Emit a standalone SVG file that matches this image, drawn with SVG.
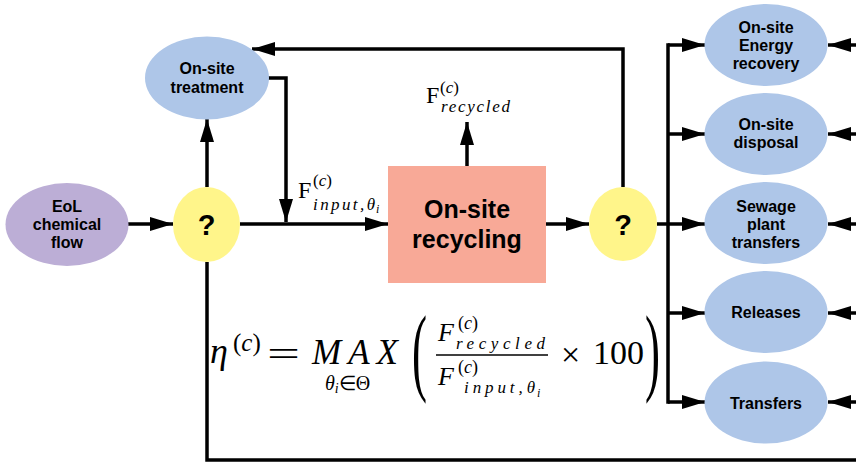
<svg xmlns="http://www.w3.org/2000/svg" width="856" height="462" viewBox="0 0 856 462">
<style>
.lbl{font-family:"Liberation Sans",Arial,sans-serif;font-weight:bold;font-size:16px;fill:#000;text-anchor:middle}
.big{font-size:25px}
.q{font-size:29px}
.blue{fill:#aec6e8}
.m{font-family:"Liberation Serif","Times New Roman",serif;fill:#000}
.it{font-style:italic}
.conn{fill:none;stroke:#000;stroke-width:3.5}
</style>
<defs>
<marker id="ah" markerUnits="userSpaceOnUse" markerWidth="24" markerHeight="16" viewBox="0 0 24 16" refX="23" refY="8" orient="auto">
<path d="M0,1 L23,8 L0,15 Z" fill="#000"/>
</marker>
</defs>
<rect width="856" height="462" fill="#fff"/>

<g id="connectors">
<line class="conn" x1="128" y1="224" x2="173" y2="224" marker-end="url(#ah)"/>
<line class="conn" x1="207" y1="187" x2="207" y2="119" marker-end="url(#ah)"/>
<path class="conn" d="M268,78 H286 V222" marker-end="url(#ah)"/>
<line class="conn" x1="240" y1="224" x2="388" y2="224" marker-end="url(#ah)"/>
<line class="conn" x1="467" y1="166" x2="467" y2="122" marker-end="url(#ah)"/>
<line class="conn" x1="546" y1="224" x2="589" y2="224" marker-end="url(#ah)"/>
<path class="conn" d="M623,187 V49 H252" marker-end="url(#ah)"/>
<path class="conn" d="M657,224 H668"/>
<path class="conn" d="M668,43.25 V403.75"/>
<line class="conn" x1="668" y1="45" x2="705" y2="45" marker-end="url(#ah)"/>
<line class="conn" x1="668" y1="134" x2="705" y2="134" marker-end="url(#ah)"/>
<line class="conn" x1="668" y1="224" x2="705" y2="224" marker-end="url(#ah)"/>
<line class="conn" x1="668" y1="313" x2="705" y2="313" marker-end="url(#ah)"/>
<line class="conn" x1="668" y1="402" x2="705" y2="402" marker-end="url(#ah)"/>
<line class="conn" x1="860" y1="45" x2="828" y2="45" marker-end="url(#ah)"/>
<line class="conn" x1="860" y1="134" x2="828" y2="134" marker-end="url(#ah)"/>
<line class="conn" x1="860" y1="224" x2="828" y2="224" marker-end="url(#ah)"/>
<line class="conn" x1="860" y1="313" x2="828" y2="313" marker-end="url(#ah)"/>
<line class="conn" x1="860" y1="402" x2="828" y2="402" marker-end="url(#ah)"/>
<path class="conn" d="M207,262 V460 H860"/>
</g>

<g id="eol">
<ellipse cx="67" cy="224.5" rx="61.5" ry="41.5" fill="#bcaed6"/>
<text class="lbl" x="67" y="212">EoL</text>
<text class="lbl" x="67" y="230">chemical</text>
<text class="lbl" x="67" y="248">flow</text>
</g>

<g id="decision-left">
<ellipse cx="206.5" cy="224.5" rx="33.5" ry="37.5" fill="#fff58a"/>
<text class="lbl q" x="206.5" y="235">?</text>
</g>

<g id="treatment">
<ellipse class="blue" cx="207" cy="78" rx="62" ry="41.5"/>
<text class="lbl" x="207" y="74">On-site</text>
<text class="lbl" x="207" y="93">treatment</text>
</g>

<g id="recycling">
<rect x="388" y="166" width="158" height="117" fill="#f8a997"/>
<text class="lbl big" x="467" y="218">On-site</text>
<text class="lbl big" x="467" y="248">recycling</text>
</g>

<g id="decision-right">
<ellipse cx="623" cy="224" rx="34" ry="37" fill="#fff58a"/>
<text class="lbl q" x="623" y="235">?</text>
</g>

<g id="energy-recovery">
<ellipse class="blue" cx="766" cy="45" rx="61.5" ry="41"/>
<text class="lbl" x="766" y="33">On-site</text>
<text class="lbl" x="766" y="51">Energy</text>
<text class="lbl" x="766" y="69">recovery</text>
</g>

<g id="disposal">
<ellipse class="blue" cx="766" cy="134" rx="61.5" ry="41"/>
<text class="lbl" x="766" y="130">On-site</text>
<text class="lbl" x="766" y="148">disposal</text>
</g>

<g id="sewage">
<ellipse class="blue" cx="766" cy="223" rx="61.5" ry="41"/>
<text class="lbl" x="766" y="212">Sewage</text>
<text class="lbl" x="766" y="230">plant</text>
<text class="lbl" x="766" y="248">transfers</text>
</g>

<g id="releases">
<ellipse class="blue" cx="766" cy="312" rx="61.5" ry="41"/>
<text class="lbl" x="766" y="318">Releases</text>
</g>

<g id="transfers">
<ellipse class="blue" cx="766" cy="402.5" rx="61.5" ry="41"/>
<text class="lbl" x="766" y="409">Transfers</text>
</g>

<g id="label-input">
<text class="m" x="298" y="198" font-size="24">F</text>
<text class="m" x="313" y="186" font-size="17">(<tspan class="it">c</tspan>)</text>
<text class="m it" x="313" y="210" font-size="17" textLength="62">input,θ</text>
<text class="m it" x="376" y="213" font-size="12">i</text>
</g>

<g id="label-recycled">
<text class="m" x="426" y="103" font-size="24">F</text>
<text class="m" x="440" y="93" font-size="17">(<tspan class="it">c</tspan>)</text>
<text class="m it" x="441" y="112" font-size="17" textLength="69">recycled</text>
</g>

<g id="formula">
<text class="m it" x="210" y="363" font-size="36">η</text>
<text class="m" x="233" y="351" font-size="25">(<tspan class="it">c</tspan>)</text>
<text class="m" x="267" y="366" font-size="36" textLength="33" lengthAdjust="spacingAndGlyphs">=</text>
<text class="m it" x="312" y="364" font-size="35" textLength="86">MAX</text>
<text class="m" x="325" y="390" font-size="20"><tspan class="it">θ</tspan><tspan class="it" font-size="14" dy="3">i</tspan><tspan dy="-3">∈Θ</tspan></text>
<text class="m" transform="translate(412,383) scale(1.25,2.7)" font-size="36">(</text>
<text class="m it" x="438" y="341" font-size="26">F</text>
<text class="m" x="458" y="329" font-size="18">(<tspan class="it">c</tspan>)</text>
<text class="m it" x="456" y="349" font-size="17" textLength="89">recycled</text>
<line x1="436" y1="355" x2="548" y2="355" stroke="#000" stroke-width="1.3"/>
<text class="m it" x="438" y="385" font-size="26">F</text>
<text class="m" x="458" y="373" font-size="18">(<tspan class="it">c</tspan>)</text>
<text class="m it" x="464" y="393" font-size="17" textLength="71">input,θ</text>
<text class="m it" x="537" y="397" font-size="12">i</text>
<text class="m" x="561" y="366" font-size="34">×</text>
<text class="m" x="593" y="364" font-size="34">100</text>
<text class="m" transform="translate(645,383) scale(1.25,2.7)" font-size="36">)</text>
</g>
</svg>
